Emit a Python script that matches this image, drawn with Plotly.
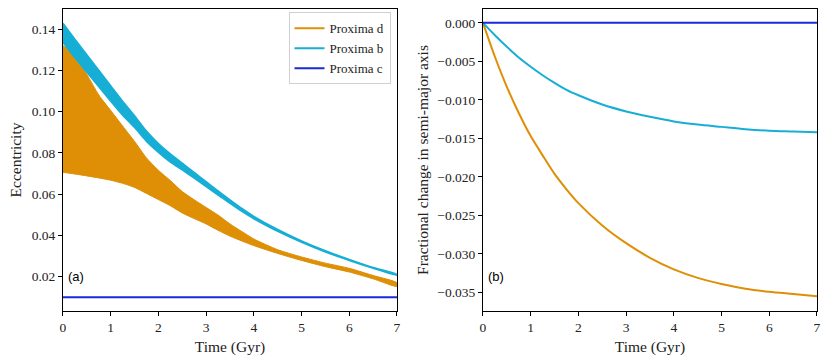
import plotly.graph_objects as go

# time grid (Gyr) for the values
t_ecc = [0, 0.25, 0.5, 0.75, 1.0, 1.25, 1.5, 1.75, 2.0, 2.25, 2.5, 2.75, 3.0,
         3.25, 3.5, 3.75, 4.0, 4.5, 5.0, 5.5, 6.0, 6.5, 7.0]

# eccentricity of Proxima d oscillates, so keep the upper / lower envelope
ecc_d_upper = [0.132, 0.127, 0.118, 0.108, 0.1005, 0.093, 0.0855, 0.0775, 0.0715,
               0.0665, 0.0612, 0.0572, 0.0535, 0.0498, 0.0455, 0.0418, 0.0382,
               0.0330, 0.0295, 0.0265, 0.0240, 0.0205, 0.0170]
ecc_d_lower = [0.0705, 0.0697, 0.0688, 0.0678, 0.0667, 0.0652, 0.0632, 0.0603, 0.0573,
               0.0543, 0.0508, 0.0481, 0.0455, 0.0424, 0.0396, 0.0372, 0.0350,
               0.0312, 0.0278, 0.0248, 0.0222, 0.0189, 0.0152]

ecc_b_upper = [0.1428, 0.1350, 0.1275, 0.1200, 0.1125, 0.1050, 0.0980, 0.0905, 0.0845,
               0.0795, 0.0750, 0.0705, 0.0660, 0.0615, 0.0572, 0.0530, 0.0492,
               0.0428, 0.0373, 0.0325, 0.0283, 0.0244, 0.0210]
ecc_b_lower = [0.1335, 0.1260, 0.1190, 0.1120, 0.1050, 0.0982, 0.0922, 0.0855, 0.0802,
               0.0755, 0.0717, 0.0677, 0.0636, 0.0595, 0.0555, 0.0516, 0.0480,
               0.0419, 0.0366, 0.0319, 0.0278, 0.0240, 0.0206]

t_c = [0, 7]
ecc_c = [0.01, 0.01]

t_da = [0, 0.25, 0.5, 0.75, 1.0, 1.25, 1.5, 1.75, 2.0, 2.5, 3.0, 3.5, 4.0,
        4.5, 5.0, 5.5, 6.0, 6.5, 7.0]
da_d = [0, -0.0044, -0.0083, -0.0117, -0.0147, -0.0172, -0.0196, -0.0216, -0.0234,
        -0.0263, -0.0286, -0.0305, -0.0320, -0.0331, -0.0339, -0.0345, -0.0349,
        -0.0352, -0.0355]
da_b = [0, -0.0016, -0.0031, -0.0045, -0.0057, -0.0068, -0.0078, -0.0087, -0.0094,
        -0.0106, -0.0115, -0.0122, -0.0128, -0.0132, -0.0135, -0.0138, -0.0140,
        -0.0141, -0.0142]
da_c = [0, 0]

ecc_ticks = [0.02, 0.04, 0.06, 0.08, 0.10, 0.12, 0.14]
ecc_ticktext = ["0.02", "0.04", "0.06", "0.08", "0.10", "0.12", "0.14"]
da_ticks = [0, -0.005, -0.010, -0.015, -0.020, -0.025, -0.030, -0.035]
da_ticktext = ["0.000", "\u22120.005", "\u22120.010", "\u22120.015", "\u22120.020",
               "\u22120.025", "\u22120.030", "\u22120.035"]

ORANGE = "#DE8F05"
CYAN = "#17AED6"
BLUE = "#1A2BD6"
SERIF = "Liberation Serif"

fig = go.Figure()

# left panel: bands
fig.add_trace(go.Scatter(x=t_ecc + t_ecc[::-1], y=ecc_d_upper + ecc_d_lower[::-1],
                         fill="toself", fillcolor=ORANGE, mode="lines",
                         line=dict(color=ORANGE, width=1, shape="spline", smoothing=0.6),
                         showlegend=False, xaxis="x", yaxis="y"))
fig.add_trace(go.Scatter(x=t_ecc + t_ecc[::-1], y=ecc_b_upper + ecc_b_lower[::-1],
                         fill="toself", fillcolor=CYAN, mode="lines",
                         line=dict(color=CYAN, width=1.5, shape="spline", smoothing=0.6),
                         showlegend=False, xaxis="x", yaxis="y"))
fig.add_trace(go.Scatter(x=t_c, y=ecc_c, mode="lines", line=dict(color=BLUE, width=2),
                         showlegend=False, xaxis="x", yaxis="y"))

# legend entries
for name, col in [("Proxima d", ORANGE), ("Proxima b", CYAN), ("Proxima c", BLUE)]:
    fig.add_trace(go.Scatter(x=[None], y=[None], mode="lines", name=name,
                             line=dict(color=col, width=2), xaxis="x", yaxis="y"))

# right panel
fig.add_trace(go.Scatter(x=t_da, y=da_d, mode="lines",
                         line=dict(color=ORANGE, width=2, shape="spline", smoothing=0.8),
                         showlegend=False, xaxis="x2", yaxis="y2"))
fig.add_trace(go.Scatter(x=t_da, y=da_b, mode="lines",
                         line=dict(color=CYAN, width=2, shape="spline", smoothing=0.8),
                         showlegend=False, xaxis="x2", yaxis="y2"))
fig.add_trace(go.Scatter(x=t_c, y=da_c, mode="lines", line=dict(color=BLUE, width=2),
                         showlegend=False, xaxis="x2", yaxis="y2"))

ax = dict(showline=True, linecolor="black", linewidth=1, mirror=True,
          ticks="outside", ticklen=4, tickcolor="black", showgrid=False,
          zeroline=False, automargin=False,
          tickfont=dict(family=SERIF, size=13.5, color="#222"))
titlefont = dict(family=SERIF, size=15.5, color="#222")

fig.update_layout(
    width=830, height=364,
    margin=dict(l=0, r=0, t=0, b=0),
    paper_bgcolor="white", plot_bgcolor="white",
    xaxis=dict(ax, domain=[0.0759, 0.4783], range=[0, 7], dtick=1, anchor="y",
               title=dict(text="Time (Gyr)", font=titlefont, standoff=6)),
    yaxis=dict(ax, domain=[0.1456, 0.9753], range=[0.0033, 0.1497],
               tickvals=ecc_ticks, ticktext=ecc_ticktext, anchor="x",
               title=dict(text="Eccentricity", font=titlefont, standoff=6)),
    xaxis2=dict(ax, domain=[0.5819, 0.9843], range=[0, 7], dtick=1, anchor="y2",
                title=dict(text="Time (Gyr)", font=titlefont, standoff=6)),
    yaxis2=dict(ax, domain=[0.1456, 0.9753], range=[-0.0374, 0.0018],
                tickvals=da_ticks, ticktext=da_ticktext, anchor="x2",
                title=dict(text="Fractional change in semi-major axis", font=titlefont,
                           standoff=4)),
    legend=dict(x=0.4705, y=0.966, xanchor="right", yanchor="top",
                bgcolor="white", bordercolor="#d0d0d0", borderwidth=1,
                font=dict(family=SERIF, size=13, color="#222"),
                tracegroupgap=0, itemwidth=30),
    annotations=[
        dict(text="(a)", x=0.08, y=0.24, xref="paper", yref="paper",
             xanchor="left", yanchor="middle", showarrow=False,
             font=dict(family="Liberation Sans", size=13, color="black")),
        dict(text="(b)", x=0.586, y=0.24, xref="paper", yref="paper",
             xanchor="left", yanchor="middle", showarrow=False,
             font=dict(family="Liberation Sans", size=13, color="black")),
    ],
)

# drop the default 8px page margin so the figure sits at the window origin
fig.write_html("out.html", config={"displayModeBar": False},
               post_script="document.body.style.margin='0';")
